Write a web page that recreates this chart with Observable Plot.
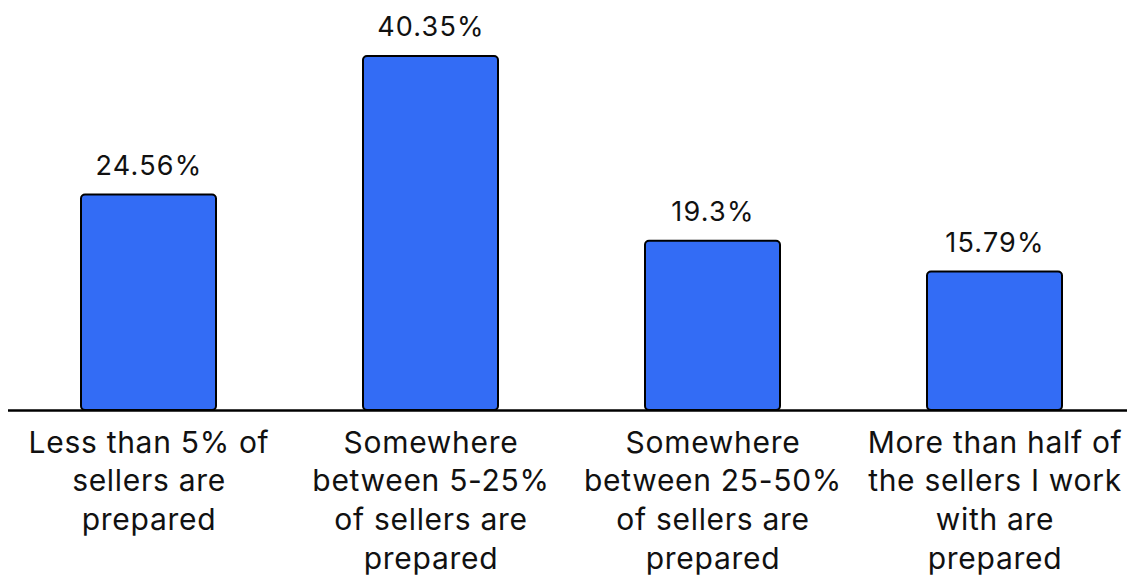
<!DOCTYPE html>
<html>
<head>
<meta charset="utf-8">
<script src="https://cdn.jsdelivr.net/npm/d3@7"></script>
<script src="https://cdn.jsdelivr.net/npm/@observablehq/plot@0.6"></script>
<style>
html, body { margin: 0; padding: 0; background: #fff; }
#chart svg { display: block; }
.vlabel text { letter-spacing: 1.2px; }
.clabel text { letter-spacing: 0.7px; }
</style>
</head>
<body>
<div id="chart"></div>
<script>
const categories = [
  "Less than 5% of\nsellers are\nprepared",
  "Somewhere\nbetween 5-25%\nof sellers are\nprepared",
  "Somewhere\nbetween 25-50%\nof sellers are\nprepared",
  "More than half of\nthe sellers I work\nwith are\nprepared"
];
const values = [24.56, 40.35, 19.3, 15.79];
const valueLabels = ["24.56%", "40.35%", "19.3%", "15.79%"];

const data = categories.map((c, i) => ({category: c, value: values[i], label: valueLabels[i]}));

const chart = Plot.plot({
  width: 1127,
  height: 576,
  marginTop: 56,
  marginBottom: 166,
  marginLeft: 8,
  marginRight: 0,
  style: {fontFamily: "Inter, sans-serif", background: "#fff"},
  x: {domain: categories, range: [7.5, 1135.5], paddingInner: 0.5213, paddingOuter: 0.2606, axis: null},
  y: {domain: [0, 40.35], axis: null},
  marks: [
    Plot.barY(data, {x: "category", y: "value", fill: "#336CF5", stroke: "#000", strokeWidth: 2, r: 4}),
    Plot.ruleY([0], {stroke: "#000", strokeWidth: 2.5}),
    Plot.text(data, {x: "category", y: "value", text: "label", dy: -29, fontSize: 27, fill: "#111", className: "vlabel"}),
    Plot.text(data, {x: "category", y: 0, text: "category", dy: 15, lineAnchor: "top", fontSize: 30, lineHeight: 1.285, fill: "#111", className: "clabel"})
  ]
});
document.getElementById("chart").appendChild(chart);
</script>
</body>
</html>
